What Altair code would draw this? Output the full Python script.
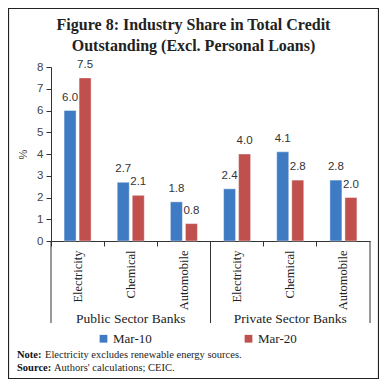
import altair as alt
import pandas as pd

groups = ["Public Sector Banks", "Private Sector Banks"]
industries = ["Electricity", "Chemical", "Automobile"]
series = ["Mar-10", "Mar-20"]
mar10 = [6.0, 2.7, 1.8, 2.4, 4.1, 2.8]
mar20 = [7.5, 2.1, 0.8, 4.0, 2.8, 2.0]
colors = ["#3F7BC3", "#C0504D"]

title_lines = ["Figure 8: Industry Share in Total Credit",
               "Outstanding (Excl. Personal Loans)"]
note_labels = ["Note:", "Source:"]
note_texts = ["Electricity excludes renewable energy sources.",
              "Authors' calculations; CEIC."]

keys = [f"{g}|{i}" for g in groups for i in industries]
rows = []
for k, a, b in zip(keys, mar10, mar20):
    rows.append({"key": k, "series": series[0], "value": a})
    rows.append({"key": k, "series": series[1], "value": b})
df = pd.DataFrame(rows)

W, H = 319, 174
SERIF = "Liberation Serif"
SANS = "Liberation Sans"

xscale = alt.Scale(domain=keys, paddingInner=0, paddingOuter=0)
offscale = alt.Scale(paddingInner=0.2, paddingOuter=0.87)
yscale = alt.Scale(domain=[0, 8])

x_axis = alt.Axis(labelAngle=-90, labelExpr="split(datum.value, '|')[1]",
                  labelFont=SERIF, labelFontSize=12.5, labelColor="#222",
                  labelPadding=4, bandPosition=0, tickSize=5,
                  tickColor="#333", domainColor="#333", labelBaseline="middle")
y_axis = alt.Axis(values=list(range(0, 9)), grid=False, tickSize=5,
                  labelFont=SANS, labelFontSize=11.5, labelColor="#444",
                  labelPadding=3, tickColor="#333", domainColor="#333",
                  labelOverlap=False,
                  titleFont=SANS, titleFontSize=11, titleFontWeight="normal",
                  titleColor="#444", titlePadding=8)

base = alt.Chart(df)

bars = base.mark_bar(stroke="white", strokeWidth=0.6, strokeOpacity=0.7).encode(
    x=alt.X("key:N", sort=keys, scale=xscale, title=None, axis=x_axis),
    xOffset=alt.XOffset("series:N", sort=series, scale=offscale),
    y=alt.Y("value:Q", scale=yscale, title="%", axis=y_axis),
    color=alt.Color("series:N", sort=series,
                    scale=alt.Scale(domain=series, range=colors),
                    legend=alt.Legend(title=None, orient="none", legendX=46, legendY=265,
                                      direction="horizontal", symbolType="square",
                                      symbolSize=60, symbolStrokeWidth=0,
                                      labelFont=SERIF, labelFontSize=13, labelColor="#222",
                                      columnPadding=90, labelOffset=3, padding=0)),
)

labels = base.mark_text(font=SANS, fontSize=11.5, color="#333", dy=-13,
                        baseline="middle").encode(
    x=alt.X("key:N", sort=keys, scale=xscale, title=None, axis=x_axis),
    xOffset=alt.XOffset("series:N", sort=series, scale=offscale),
    y=alt.Y("value:Q", scale=yscale, title="%", axis=y_axis),
    text=alt.Text("value:Q", format=".1f"),
)

gdf = pd.DataFrame({"key": [f"{g}|{industries[0]}" for g in groups],
                    "mid": [f"{g}|{industries[1]}" for g in groups],
                    "group": groups})

sep = alt.Chart(gdf).mark_rule(color="#333", strokeWidth=1).encode(
    x=alt.X("key:N", sort=keys, scale=xscale, bandPosition=0, title=None, axis=x_axis),
    y=alt.value(H), y2=alt.value(H + 82))

sep_end = alt.Chart(gdf.head(1)).mark_rule(color="#333", strokeWidth=1).encode(
    x=alt.value(W), y=alt.value(H), y2=alt.value(H + 82))

glabels = alt.Chart(gdf).mark_text(font=SERIF, fontSize=13.5, color="#222",
                                   baseline="middle").encode(
    x=alt.X("mid:N", sort=keys, scale=xscale, bandPosition=0.5, title=None, axis=x_axis),
    y=alt.value(H + 78), text="group:N")

tdf = pd.DataFrame({"t": title_lines})
title1 = alt.Chart(tdf.head(1)).mark_text(font=SERIF, fontSize=16, fontWeight="bold",
                                          color="#222", baseline="middle").encode(
    x=alt.value(142.5), y=alt.value(-42), text="t:N")
title2 = alt.Chart(tdf.tail(1)).mark_text(font=SERIF, fontSize=16, fontWeight="bold",
                                          color="#222", baseline="middle").encode(
    x=alt.value(142.5), y=alt.value(-21), text="t:N")

ndf = pd.DataFrame({"b": note_labels, "t": note_texts})
nb1 = alt.Chart(ndf.head(1)).mark_text(font=SERIF, fontSize=10.5, fontWeight="bold",
                                       align="left", baseline="middle", color="#111").encode(
    x=alt.value(-34), y=alt.value(288), text="b:N")
nb2 = alt.Chart(ndf.tail(1)).mark_text(font=SERIF, fontSize=10.5, fontWeight="bold",
                                       align="left", baseline="middle", color="#111").encode(
    x=alt.value(-34), y=alt.value(301), text="b:N")
nt1 = alt.Chart(ndf.head(1)).mark_text(font=SERIF, fontSize=10.5, align="left",
                                       baseline="middle", color="#222").encode(
    x=alt.value(-6), y=alt.value(288), text="t:N")
nt2 = alt.Chart(ndf.tail(1)).mark_text(font=SERIF, fontSize=10.5, align="left",
                                       baseline="middle", color="#222").encode(
    x=alt.value(3), y=alt.value(301), text="t:N")

border = alt.Chart(gdf.head(1)).mark_rect(fill=None, stroke="#222", strokeWidth=1.2).encode(
    x=alt.value(-42.5), x2=alt.value(W + 8.5), y=alt.value(-58.5), y2=alt.value(H + 137.5))

chart = alt.layer(border, bars, labels, sep, sep_end, glabels,
                  title1, title2, nb1, nb2, nt1, nt2).properties(
    width=W, height=H,
    padding={"left": 43, "top": 59, "right": 9, "bottom": 138},
    autosize=alt.AutoSizeParams(type="none"),
).configure_view(stroke=None)

chart.save("out.html", embed_options={"renderer": "svg", "actions": False})
